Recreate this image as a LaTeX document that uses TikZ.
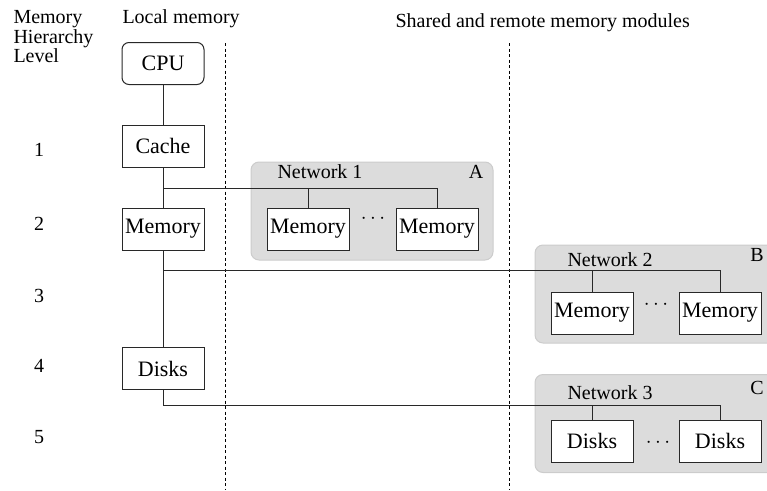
\documentclass[tikz,border=0pt]{standalone}
\usepackage{fontspec}
\setmainfont{Liberation Serif}
\usetikzlibrary{calc}
\definecolor{netfill}{RGB}{220,220,220}
\definecolor{netline}{RGB}{204,204,204}
\definecolor{wire}{RGB}{40,40,40}
\newcommand{\boxfont}{\fontsize{22}{24}\selectfont}
\newcommand{\lblfont}{\fontsize{20}{19.5}\selectfont}

\begin{document}
\begin{tikzpicture}[x=1pt,y=-1pt,line width=1pt,
  unit/.style={draw=wire,fill=white,minimum width=82pt,minimum height=42pt,inner sep=0pt,font=\boxfont},
  net/.style={fill=netfill,draw=netline,rounded corners=8pt,minimum width=242pt,minimum height=98pt,inner sep=0pt},
  lbl/.style={inner sep=0pt,font=\lblfont},
  sep/.style={draw=black,dash pattern=on 3pt off 2.5pt}]
\useasboundingbox (0,0) rectangle (767,490);
% headers
\node[lbl,anchor=north west,align=left] (hdrlevel) at (13,10) {Memory\\Hierarchy\\Level};
\node[lbl,anchor=base west] (hdrlocal) at (122,23) {Local memory};
\node[lbl,anchor=base west] (hdrshared) at (395,27) {Shared and remote memory modules};
% level numbers
\foreach \n/\y in {1/150,2/224,3/296,4/366,5/437}
	\node[lbl] (lev\n) at (39,\y) {\n};
% column separators
\coordinate (sepAtop) at (225,43);
\coordinate (sepAbot) at (225,490);
\coordinate (sepBtop) at (509,43);
\coordinate (sepBbot) at (509,490);
\draw[sep] (sepAtop) -- (sepAbot);
\draw[sep] (sepBtop) -- (sepBbot);
% networks
\node[net] (netA) at (372,211) {};
\node[net] (netB) at (656,294) {};
\node[net] (netC) at (656,423.5) {};
\node[lbl] (titleA) at (320,172) {Network 1};
\node[lbl] (tagA) at (476,172) {A};
\node[lbl] (titleB) at (610,260) {Network 2};
\node[lbl] (tagB) at (757,255) {B};
\node[lbl] (titleC) at (610,393) {Network 3};
\node[lbl] (tagC) at (757,388) {C};
% local column
\node[unit,rounded corners=7pt] (cpu) at (163,63.5) {CPU};
\node[unit] (cache) at (163,146) {Cache};
\node[unit] (mem) at (163,229) {Memory};
\node[unit] (disks) at (163,368.5) {Disks};
% remote modules
\node[unit] (memA1) at (308,229) {Memory};
\node[unit] (memA2) at (437,229) {Memory};
\node[unit] (memB1) at (592,313) {Memory};
\node[unit] (memB2) at (720,313) {Memory};
\node[unit] (diskC1) at (592,441) {Disks};
\node[unit] (diskC2) at (720,441) {Disks};
\node[font=\boxfont,inner sep=0pt] (dotsA) at (373,219) {$\cdots$};
\node[font=\boxfont,inner sep=0pt] (dotsB) at (656,305) {$\cdots$};
\node[font=\boxfont,inner sep=0pt] (dotsC) at (658,443) {$\cdots$};
% buses
\coordinate (busA) at (163,188);
\coordinate (busB) at (163,270);
\coordinate (busC) at (163,405);
\draw[wire] (cpu) -- (cache);
\draw[wire] (cache) -- (mem);
\draw[wire] (mem) -- (disks);
\draw[wire] (disks) -- (busC) -| (diskC2);
\draw[wire] (busC -| diskC1) -- (diskC1);
\draw[wire] (busA) -| (memA2);
\draw[wire] (busA -| memA1) -- (memA1);
\draw[wire] (busB) -| (memB2);
\draw[wire] (busB -| memB1) -- (memB1);
\end{tikzpicture}
\end{document}
